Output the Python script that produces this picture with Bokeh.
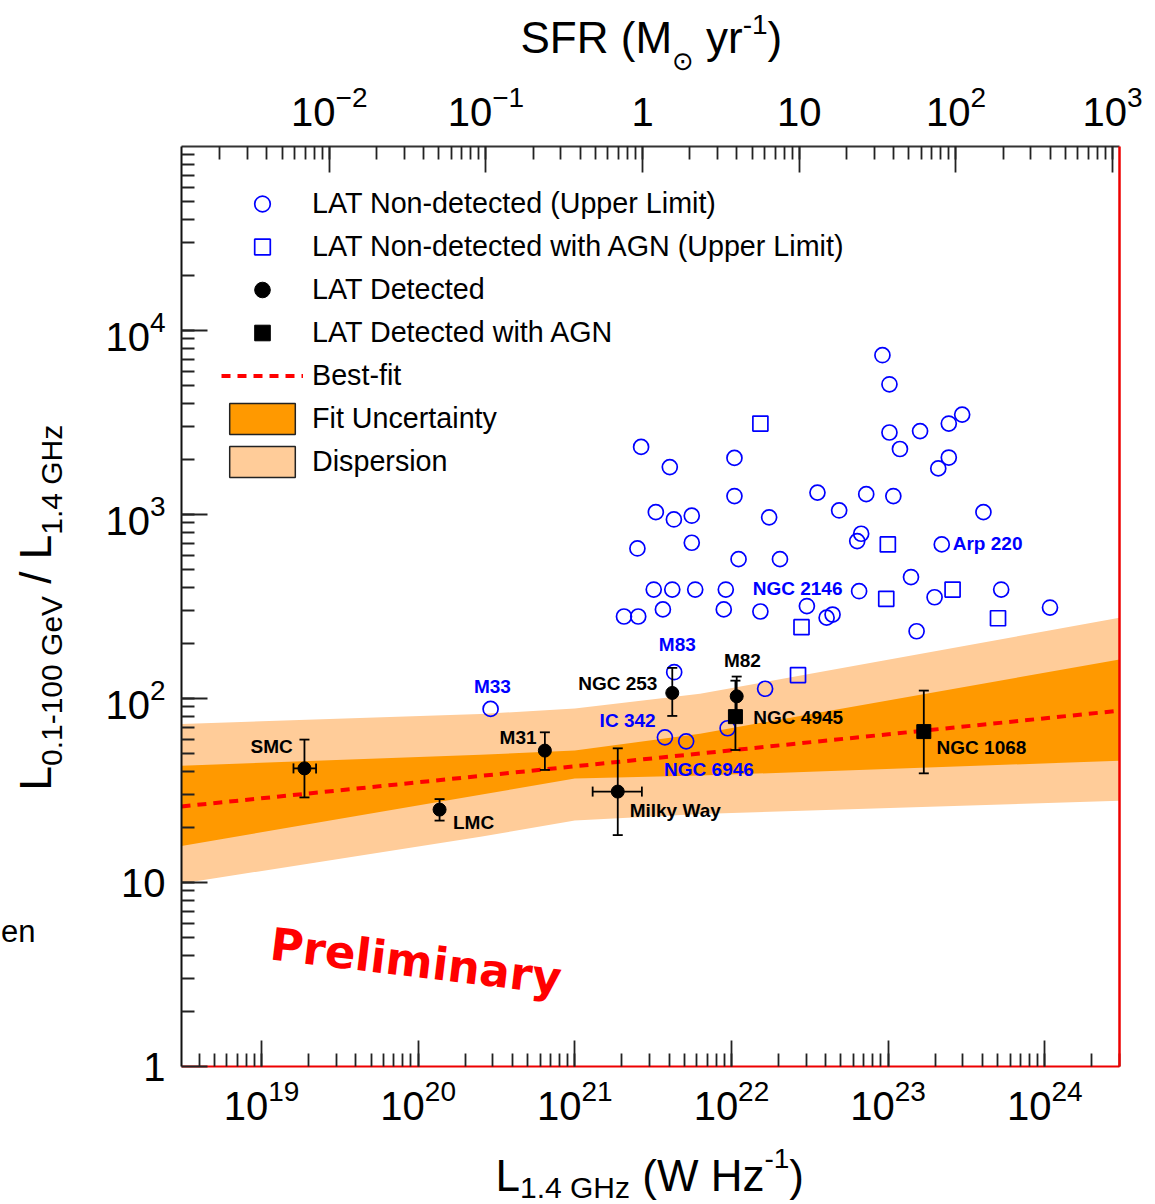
import math
from bokeh.plotting import figure
from bokeh.layouts import column, row
from bokeh.models import (ColumnDataSource, Range1d, LogScale, LogAxis, FixedTicker,
                          Whisker, TeeHead, Label, Legend, LegendItem)
from bokeh.core.properties import value
from bokeh.embed import file_html
from bokeh.resources import INLINE

# ---------------------------------------------------------------------------
# Data
# ---------------------------------------------------------------------------
# LAT non-detected galaxies (upper limits): L_1.4GHz [W/Hz] and L_gamma/L_1.4GHz
ul_L = [9.2e22, 1.02e23, 2.65e21, 4.04e21, 1.045e22, 1.02e23, 1.6e23, 1.19e23,
        2.44e23, 2.97e23, 2.44e23, 2.09e23, 1.045e22, 3.54e22, 7.25e22, 1.08e23,
        4.87e22, 4.06e23, 3.29e21, 4.29e21, 5.58e21, 1.74e22, 6.73e22, 6.35e22,
        2.2e23, 2.51e21, 5.58e21, 1.11e22, 2.04e22, 1.4e23, 3.19e21, 4.19e21,
        5.87e21, 9.2e21, 6.53e22, 1.98e23, 5.27e23, 1.08e24, 2.06e21, 2.54e21,
        3.65e21, 8.93e21, 1.53e22, 3.03e22, 4.05e22, 4.42e22, 1.52e23, 2.9e20,
        4.31e21, 3.76e21, 5.14e21, 9.45e21, 1.64e22]
ul_ratio = [7340, 5100, 2330, 1810, 2030, 2790, 2840, 2270,
            3120, 3490, 2040, 1780, 1260, 1315, 1290, 1260,
            1052, 1030, 1030, 940, 985, 965, 786, 717,
            688, 654, 702, 572, 572, 457, 391, 391,
            391, 391, 383, 355, 391, 312, 279, 279,
            305, 305, 297, 318, 275, 286, 232, 87.8,
            139, 61.5, 58.5, 68.9, 113]

# LAT non-detected galaxies hosting an AGN (upper limits)
ul_agn_L = [1.53e22, 9.96e22, 9.73e22, 2.58e23, 2.8e22, 5.03e23, 2.66e22]
ul_agn_ratio = [3120, 688, 348, 391, 244, 273, 134]

# Named upper limits
ul_names = ["M33", "M83", "IC 342", "NGC 6946", "NGC 2146", "Arp 220"]
ul_names_L = [2.9e20, 4.31e21, 3.76e21, 5.14e21, 6.53e22, 2.2e23]
ul_names_ratio = [87.8, 139, 61.5, 58.5, 383, 688]

# LAT detected star-forming galaxies
det_names = ["SMC", "LMC", "M31", "Milky Way", "NGC 253", "M82"]
det_L = [1.88e19, 1.37e20, 6.44e20, 1.88e21, 4.19e21, 1.08e22]
det_ratio = [41.7, 24.9, 52.1, 31.2, 107.2, 102.8]
det_ratio_lo = [29.0, 21.7, 40.9, 18.1, 80.4, 83.8]
det_ratio_hi = [59.8, 28.4, 65.5, 53.6, 146.7, 131.6]

# Horizontal uncertainties (only for SMC and the Milky Way)
xerr_ratio = [41.7, 31.2]
xerr_L_lo = [1.6e19, 1.30e21]
xerr_L_hi = [2.23e19, 2.68e21]

# LAT detected galaxies with AGN
agn_names = ["NGC 4945", "NGC 1068"]
agn_L = [1.06e22, 1.69e23]
agn_ratio = [79.7, 66.1]
agn_ratio_lo = [52.5, 39.2]
agn_ratio_hi = [125.0, 110.4]

# Best fit and its bands
fit_L = [3.085e18, 3.0e24]
fit_ratio = [25.9, 85.9]
band_L = [3.085e18, 2.5e20, 1.0e21, 6.3e21, 3.0e24]
disp_hi = [72.7, 82.4, 88.1, 106.0, 274.5]
unc_hi = [43.1, 49.5, 52.1, 64.4, 162.8]
unc_lo = [15.8, 30.0, 36.7, 38.1, 45.9]
disp_lo = [9.88, 17.7, 21.7, 23.6, 27.8]

# L_1.4GHz corresponding to SFR = 1 Msun/yr
L_PER_SFR = 2.71e21

# Axis ticks
x_major = [1e19, 1e20, 1e21, 1e22, 1e23, 1e24]
y_major = [1, 10, 100, 1e3, 1e4]
sfr_major = [1e-2, 1e-1, 1, 10, 1e2, 1e3]

# ---------------------------------------------------------------------------
# Page geometry (pixels from the top-left corner of the page)
# ---------------------------------------------------------------------------
X_LO, X_HI = 3.085e18, 3.0e24
Y_LO, Y_HI = 1.0, 1e5
W, H = 1155, 1204
TOP_H = 76          # strip holding the SFR title
LEFT_W = 90         # strip holding the rotated y title
BOTTOM_Y = 1140     # bottom strip starts here
FRAME_L, FRAME_R, FRAME_T, FRAME_B = 181, 1119, 146, 1066

FONT = "Liberation Sans"
BLUE = "#0000ff"
DARK_ORANGE = "#ff9900"
LIGHT_ORANGE = "#ffcc99"
# distance from the vertical centre of a text line up to its baseline, in em
MID_TO_BASE = 0.3465


def at_px(px, py):
    """Page pixel position -> data coordinates of the log-log frame."""
    lx0, lx1 = math.log10(X_LO), math.log10(X_HI)
    ly0, ly1 = math.log10(Y_LO), math.log10(Y_HI)
    lx = lx0 + (px - FRAME_L) / (FRAME_R - FRAME_L) * (lx1 - lx0)
    ly = ly0 + (FRAME_B - py) / (FRAME_B - FRAME_T) * (ly1 - ly0)
    return 10 ** lx, 10 ** ly


def minors(lo, hi, n0, n1):
    out = []
    for n in range(n0, n1 + 1):
        for k in range(1, 10):
            v = k * 10.0 ** n
            if lo <= v <= hi * 1.0001:
                out.append(v)
    return out


# ---------------------------------------------------------------------------
# Main plot
# ---------------------------------------------------------------------------
main_w = W - LEFT_W
main_h = BOTTOM_Y - TOP_H
p = figure(width=main_w, height=main_h, x_axis_type="log", y_axis_type="log",
           x_range=Range1d(X_LO, X_HI), y_range=Range1d(Y_LO, Y_HI),
           output_backend="svg", toolbar_location=None,
           min_border_left=FRAME_L - LEFT_W, min_border_right=W - FRAME_R,
           min_border_top=FRAME_T - TOP_H, min_border_bottom=BOTTOM_Y - FRAME_B,
           background_fill_color="white", border_fill_color="white",
           outline_line_color=None)
p.grid.visible = False

p.extra_x_ranges = {"sfr": Range1d(X_LO / L_PER_SFR, X_HI / L_PER_SFR)}
p.extra_x_scales = {"sfr": LogScale()}


def style_axis(ax, ticks, minor, standoff, overrides=None, line_color="#111111"):
    ax.ticker = FixedTicker(ticks=ticks, minor_ticks=minor)
    ax.major_tick_in = 26
    ax.major_tick_out = 0
    ax.minor_tick_in = 13
    ax.minor_tick_out = 0
    ax.major_tick_line_color = "#222222"
    ax.minor_tick_line_color = "#222222"
    ax.major_tick_line_width = 1.8
    ax.minor_tick_line_width = 1.8
    ax.axis_line_color = line_color
    ax.axis_line_width = 2
    ax.major_label_text_font = FONT
    ax.major_label_text_font_size = "40px"
    ax.major_label_text_color = "black"
    ax.major_label_standoff = standoff
    if overrides:
        ax.major_label_overrides = overrides


style_axis(p.below[0], x_major, minors(X_LO, X_HI, 18, 24), 12, line_color="#ee0000")
style_axis(p.left[0], y_major, minors(2, 9.5e4, 0, 4), 16, {1: "1", 10: "10"})

top_axis = LogAxis(x_range_name="sfr")
style_axis(top_axis, sfr_major, minors(X_LO / L_PER_SFR, X_HI / L_PER_SFR, -3, 3), 21,
           {1: "1", 10: "10"}, line_color="#333333")
p.add_layout(top_axis, "above")

right_axis = LogAxis(ticker=FixedTicker(ticks=[]), major_label_text_font_size="0px",
                     axis_line_color="#ee0000", axis_line_width=2.5,
                     major_tick_line_color=None, minor_tick_line_color=None)
p.add_layout(right_axis, "right")

# Bands and best fit
p.varea(x=band_L, y1=disp_lo, y2=disp_hi, fill_color=LIGHT_ORANGE)
p.varea(x=band_L, y1=unc_lo, y2=unc_hi, fill_color=DARK_ORANGE)
r_fit = p.line(x=fit_L, y=fit_ratio, line_color="#ff0000", line_width=4, line_dash="9 7")

# Legend-only swatches for the bands (NaN geometry: nothing is drawn in the frame)
nan = float("nan")
r_unc = p.quad(left=[nan], right=[nan], top=[nan], bottom=[nan], fill_color=DARK_ORANGE,
               line_color="#222222", line_width=1.5)
r_disp = p.quad(left=[nan], right=[nan], top=[nan], bottom=[nan], fill_color=LIGHT_ORANGE,
                line_color="#222222", line_width=1.5)

# Upper limits
r_ul = p.scatter(x=ul_L, y=ul_ratio, marker="circle", size=15, fill_color=None,
                 line_color=BLUE, line_width=1.7)
r_ul_agn = p.scatter(x=ul_agn_L, y=ul_agn_ratio, marker="square", size=15,
                     fill_color=None, line_color=BLUE, line_width=1.7)

# Detections with error bars
det_src = ColumnDataSource(dict(L=det_L, r=det_ratio, lo=det_ratio_lo, hi=det_ratio_hi))
agn_src = ColumnDataSource(dict(L=agn_L, r=agn_ratio, lo=agn_ratio_lo, hi=agn_ratio_hi))
xerr_src = ColumnDataSource(dict(r=xerr_ratio, lo=xerr_L_lo, hi=xerr_L_hi))


def error_bars(src, base, dim):
    head = dict(size=10, line_color="black", line_width=1.8)
    return Whisker(source=src, base=base, lower="lo", upper="hi", dimension=dim,
                   line_color="black", line_width=1.8, level="overlay",
                   lower_head=TeeHead(**head), upper_head=TeeHead(**head))


p.add_layout(error_bars(det_src, "L", "height"))
p.add_layout(error_bars(agn_src, "L", "height"))
p.add_layout(error_bars(xerr_src, "r", "width"))

r_det = p.scatter(x="L", y="r", source=det_src, marker="circle", size=13,
                  fill_color="black", line_color="black")
r_det_agn = p.scatter(x="L", y="r", source=agn_src, marker="square", size=14,
                      fill_color="black", line_color="black")

# Galaxy names: pixel offsets of each name's left end / baseline from its point
NAME_SIZE = 19
det_dx = [-54, 13.4, -45.3, 11.9, -94.1, -12.8]
det_dy = [-15.4, 19.3, -6.7, 25.7, -3, -29]
agn_dx = [17.9, 12.8]
agn_dy = [7.3, 22.3]
ul_dx = [-16.7, -15.4, -65.3, -22.1, -106.4, 11]
ul_dy = [-15.6, -20.7, -10, 34.3, 4.3, 6]
mid = MID_TO_BASE * NAME_SIZE

name_kw = dict(text_font=value(FONT), text_font_style="bold",
               text_font_size=f"{NAME_SIZE}px", text_align="left", text_baseline="middle")
p.text(x=det_L + agn_L, y=det_ratio + agn_ratio, text=det_names + agn_names,
       x_offset=det_dx + agn_dx, y_offset=[d - mid for d in det_dy + agn_dy],
       text_color="black", **name_kw)
p.text(x=ul_names_L, y=ul_names_ratio, text=ul_names,
       x_offset=ul_dx, y_offset=[d - mid for d in ul_dy], text_color=BLUE, **name_kw)

# Legend
legend = Legend(items=[
    LegendItem(label="LAT Non-detected (Upper Limit)", renderers=[r_ul]),
    LegendItem(label="LAT Non-detected with AGN (Upper Limit)", renderers=[r_ul_agn]),
    LegendItem(label="LAT Detected", renderers=[r_det]),
    LegendItem(label="LAT Detected with AGN", renderers=[r_det_agn]),
    LegendItem(label="Best-fit", renderers=[r_fit]),
    LegendItem(label="Fit Uncertainty", renderers=[r_unc]),
    LegendItem(label="Dispersion", renderers=[r_disp]),
], location=(40, 585), padding=0, margin=0, spacing=4,
    glyph_width=82, glyph_height=39, label_height=31, label_standoff=9,
    label_text_font=FONT, label_text_font_size="28.7px", label_text_color="black",
    border_line_color=None, background_fill_alpha=0)
p.add_layout(legend, "center")

lx, ly = at_px(270, 959 - MID_TO_BASE * 45)
p.add_layout(Label(x=lx, y=ly, text="Preliminary", angle=-0.12, text_align="left",
                   text_baseline="middle", text_font="DejaVu Sans",
                   text_font_size="45px", text_font_style="bold", text_color="#ff0000"))

# ---------------------------------------------------------------------------
# Title strips (data coordinates = page pixels)
# ---------------------------------------------------------------------------
CW = {'L': 556, '.': 278, '-': 333, ' ': 278, 'G': 778, 'e': 556, 'V': 667,
      '/': 278, 'H': 722, 'z': 500, '(': 333, ')': 333, 'W': 944, 'S': 667,
      'F': 611, 'R': 722, 'M': 833, 'y': 500, 'r': 333, 'n': 556, '\u2299': 838}
for d in "0123456789":
    CW[d] = 556


def text_w(s, size):
    return sum(CW[c] for c in s) / 1000.0 * size


def strip(x0, x1, y0, y1):
    f = figure(width=x1 - x0, height=y1 - y0, x_range=Range1d(x0, x1),
               y_range=Range1d(y1, y0), output_backend="svg", toolbar_location=None,
               x_axis_location=None, y_axis_location=None, min_border=0,
               outline_line_color=None, background_fill_color="white",
               border_fill_color="white")
    f.grid.visible = False
    return f


def put(f, x, y, text, size, font=FONT, angle=0.0, align="left"):
    """Place text whose baseline passes through page point (x, y)."""
    d = MID_TO_BASE * size
    if angle:
        x -= d          # rotated a quarter turn: "up" points to the left
    else:
        y -= d
    f.add_layout(Label(x=x, y=y, text=text, angle=angle, text_align=align,
                       text_baseline="middle", text_font=font,
                       text_font_size=f"{size}px", text_color="black"))


def put_row(f, x0, base, pieces):
    # pieces: (text, size, baseline shift, font)
    x = x0
    for text, size, shift, font in pieces:
        body = text.lstrip(" ")
        x += text_w(text[:len(text) - len(body)], size)
        put(f, x, base + shift, body, size, font=font)
        x += text_w(body, size)


top = strip(0, W, 0, TOP_H)
put_row(top, 520, 52, [("SFR (M", 44, 0, FONT), ("\u2299", 26, 18, "DejaVu Sans"),
                       (" yr", 44, 0, FONT), ("-1", 28, -18, FONT), (")", 44, 0, FONT)])

bottom = strip(0, W, BOTTOM_Y, H)
put_row(bottom, 495, 1190, [("L", 44, 0, FONT), ("1.4 GHz", 30, 7, FONT),
                            (" (W Hz", 44, 0, FONT), ("-1", 28, -22, FONT),
                            (")", 44, 0, FONT)])

# The left strip shares the main plot's frame rows, so its frame spans FRAME_T..FRAME_B
left = figure(width=LEFT_W, height=main_h, x_range=Range1d(0, LEFT_W),
              y_range=Range1d(FRAME_B, FRAME_T), output_backend="svg",
              toolbar_location=None, x_axis_location=None, y_axis_location=None,
              min_border=0, outline_line_color=None, background_fill_color="white",
              border_fill_color="white")
left.grid.visible = False
yy = 790
for text, size, bx in [("L", 44, 50), ("0.1-100 GeV", 30, 61), (" / L", 44, 50),
                       ("1.4 GHz", 30, 61)]:
    # rotated text reads bottom to top
    body = text.lstrip(" ")
    yy -= text_w(text[:len(text) - len(body)], size)
    put(left, bx, yy, body, size, angle=math.pi / 2)
    yy -= text_w(body, size)
put(left, 35, 942, "en", 31, align="right")

page = column(top, row(left, p, spacing=0), bottom, spacing=0)

open("out.html", "w").write(file_html(page, INLINE))
